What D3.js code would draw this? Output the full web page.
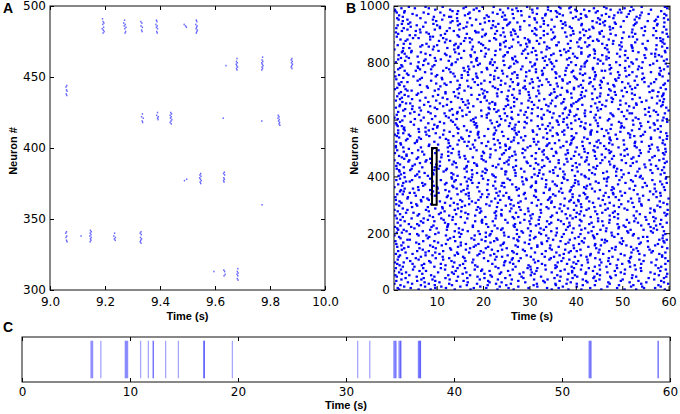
<!DOCTYPE html>
<html>
<head>
<meta charset="utf-8">
<script src="https://cdnjs.cloudflare.com/ajax/libs/d3/7.8.5/d3.min.js"></script>
<style>
body { margin: 0; background: #fff; }
svg { display: block; }
.tick text { font-family: "DejaVu Sans", sans-serif; font-size: 12px; fill: #000; }
.lab { font-family: "Liberation Sans", Arial, sans-serif; font-weight: bold; font-size: 11px; fill: #000; }
.letter { font-family: "Liberation Sans", Arial, sans-serif; font-weight: bold; font-size: 14px; fill: #000; }
</style>
</head>
<body>
<svg width="680" height="414"></svg>
<script>
// panel A: spikes in the 9-10 s window, neurons 300-500  [time (s), neuron]
var spikesA = [
  [9.191,491],[9.193,489],[9.196,488],[9.192,487],[9.195,485],[9.190,484],[9.194,483],[9.197,482],[9.193,481],
  [9.271,490],[9.268,488],[9.274,487],[9.270,486],[9.276,485],[9.272,484],[9.275,482],[9.273,481],
  [9.330,489],[9.334,488],[9.331,486],[9.336,485],[9.333,483],[9.335,482],
  [9.387,490],[9.389,489],[9.385,487],[9.390,486],[9.387,485],[9.391,484],[9.388,482],[9.390,481],
  [9.488,487],[9.493,486],[9.496,485],
  [9.532,490],[9.534,489],[9.530,487],[9.535,486],[9.533,485],[9.531,484],[9.534,482],[9.532,481],[9.536,483],
  [9.640,458],
  [9.680,463],[9.678,461],[9.681,460],[9.677,459],[9.679,458],[9.682,457],[9.678,456],[9.680,455],
  [9.773,464],[9.771,462],[9.774,461],[9.770,460],[9.772,459],[9.775,458],[9.771,457],[9.773,456],[9.770,455],
  [9.880,463],[9.877,462],[9.881,461],[9.878,460],[9.882,459],[9.879,458],[9.877,457],[9.880,456],
  [9.061,444],[9.058,443],[9.060,441],[9.062,440],[9.059,438],[9.061,437],
  [9.336,424],[9.333,422],[9.339,421],[9.335,419],[9.337,418],
  [9.391,425],[9.388,423],[9.394,422],[9.391,421],[9.393,420],
  [9.439,425],[9.442,424],[9.437,423],[9.441,422],[9.438,421],[9.443,420],[9.440,419],[9.437,418],[9.441,417],
  [9.630,421],[9.770,419],
  [9.830,423],[9.833,422],[9.829,421],[9.834,420],[9.831,419],[9.835,418],[9.833,417],[9.836,416],
  [9.489,377],[9.497,378],
  [9.548,382],[9.545,381],[9.549,380],[9.544,379],[9.547,378],[9.550,377],[9.546,376],[9.548,375],
  [9.634,383],[9.631,382],[9.635,381],[9.632,379],[9.634,378],[9.631,377],[9.633,376],
  [9.771,360],
  [9.060,341],[9.057,340],[9.061,338],[9.058,337],[9.060,335],[9.062,334],
  [9.113,338],
  [9.147,342],[9.150,341],[9.146,340],[9.149,339],[9.145,338],[9.150,337],[9.147,336],[9.149,335],[9.146,334],
  [9.235,340],[9.232,338],[9.238,337],[9.234,336],[9.237,335],
  [9.331,341],[9.328,340],[9.332,339],[9.329,337],[9.333,336],[9.330,335],[9.328,334],[9.331,333],
  [9.596,313],
  [9.632,314],[9.635,313],[9.637,311],[9.633,310],
  [9.683,315],[9.681,313],[9.684,312],[9.680,311],[9.683,310],[9.681,308],[9.684,307]
];

// panel B: whole network raster, one string per neuron: "neuron|spike times in tenths of a second"
var rasterB = [
"2|412 87 530 266 19 348 173 455 592 231 61 384 505 139","7|298 44 571 363 120 207 489 16 431 255 338 97 547 180",
"12|75 519 236 402 151 583 30 317 468 194 276 543 110 372","17|441 22 165 309 578 250 96 493 357 133 210 524 415 66",
"22|187 356 9 473 260 127 599 402 83 316 228 541 47 380","27|552 214 106 389 38 470 291 167 516 240 333 74 425 590",
"32|13 276 443 158 584 97 365 211 497 330 58 422 143 535","37|339 128 501 67 262 415 193 569 24 310 451 382 232 91",
"42|476 203 33 354 119 590 287 438 72 521 166 393 248 557","47|95 367 219 530 14 283 146 474 403 57 325 595 188 440",
"52|258 41 398 172 522 303 88 452 216 579 125 360 11 486","57|570 137 311 25 446 203 384 69 505 279 156 597 236 421",
"62|34 422 164 287 561 103 348 497 19 239 392 133 468 305","67|315 77 484 196 367 8 541 254 437 141 582 63 392 214",
"72|452 182 23 335 594 264 118 411 49 529 303 198 376 506","77|109 540 296 71 428 161 356 489 233 12 578 317 145 396",
"82|227 391 135 517 52 302 466 188 584 95 359 27 441 270","87|488 20 356 245 150 572 413 68 298 183 527 119 451 334",
"92|73 265 541 401 109 327 15 474 220 593 157 381 48 500","97|361 138 455 29 258 516 177 395 87 312 563 246 426 10",
"102|546 84 211 369 470 132 599 43 319 248 405 162 514 277","107|16 309 425 179 61 537 262 343 491 114 386 226 574 452",
"112|281 471 98 593 202 346 36 160 442 517 264 373 127 55","117|423 157 303 66 519 229 479 113 353 586 18 398 241 333",
"122|139 586 253 431 21 188 365 91 505 294 548 216 411 76","127|327 48 497 224 374 580 146 273 12 432 106 537 192 459",
"132|593 201 76 358 144 449 266 520 385 33 312 170 563 97","137|58 389 232 114 534 290 17 472 195 402 335 83 566 263",
"142|410 163 559 286 70 348 485 219 131 25 377 524 241 451","147|206 30 344 478 251 129 597 396 63 304 444 172 531 98",
"152|519 275 146 39 427 586 211 363 92 486 317 180 15 556","157|86 454 317 571 184 24 238 395 509 152 270 441 111 345",
"162|378 120 243 499 327 62 442 190 577 13 299 537 407 163","167|245 591 56 384 152 462 326 103 216 540 28 417 290 495",
"172|11 338 467 205 95 555 276 413 140 367 502 71 224 589","177|463 197 580 301 42 231 124 456 351 596 181 274 37 387",
"182|129 419 22 266 535 341 175 81 499 398 229 587 310 440","187|554 255 137 406 84 483 313 19 370 206 545 150 439 278",
"192|301 78 523 182 357 120 437 246 588 61 478 336 214 9","197|42 374 216 491 273 593 153 58 410 325 193 525 97 446",
"202|392 148 25 321 566 245 477 104 286 427 14 359 513 206","207|167 511 283 70 434 190 347 590 219 35 465 139 303 562",
"212|575 29 412 156 239 518 86 379 273 453 122 546 331 17","217|231 359 100 466 15 297 420 568 148 242 52 395 492 324",
"222|493 211 561 45 336 178 89 438 268 507 383 123 587 10","227|62 314 178 408 541 93 266 503 22 387 459 225 124 573",
"232|343 582 40 269 125 374 490 207 320 141 557 58 429 302","237|118 434 253 596 347 71 198 515 386 16 472 280 161 534",
"242|457 197 95 338 221 526 31 412 300 569 183 448 66 368","247|22 289 510 134 409 248 584 362 81 198 473 320 552 115",
"252|529 72 381 267 166 46 448 572 227 304 110 393 491 14","257|276 432 152 550 27 346 205 92 483 400 264 567 135 322",
"262|85 349 228 11 473 594 127 302 418 240 59 525 183 388","267|408 168 307 491 62 239 378 142 538 21 446 290 597 105",
"272|193 560 34 225 359 109 480 271 402 162 591 50 325 457","277|570 258 442 117 196 531 298 16 370 484 83 228 411 153",
"282|37 423 186 569 281 396 77 240 511 139 324 464 9 598","287|341 97 261 383 146 505 27 428 194 561 365 113 297 469",
"292|112 493 354 47 230 154 412 582 278 81 525 189 440 337","297|482 214 58 401 542 316 129 249 19 453 375 161 576 266",
"302|259 13 463 170 88 367 597 207 325 498 145 411 56 541","307|24 305 137 522 276 396 184 45 473 232 589 347 118 437",
"312|406 176 581 67 348 218 513 107 429 281 20 386 537 155","317|151 389 261 458 12 190 319 557 83 405 493 237 340 66",
"322|537 80 343 226 600 131 449 292 37 376 170 519 256 423","327|71 471 195 38 314 425 256 122 574 345 11 486 209 393",
"332|356 233 124 499 277 55 408 583 169 244 460 96 310 545","337|198 567 393 145 27 481 351 212 89 533 288 420 163 15",
"342|480 42 290 417 169 582 104 371 464 229 52 331 506 250","347|29 364 153 560 236 92 441 314 192 496 387 21 573 127",
"352|313 158 525 86 452 273 23 389 592 119 343 209 477 61","357|166 422 49 344 227 516 143 277 435 31 570 368 102 482",
"362|418 101 271 590 60 335 479 188 246 391 136 544 303 9","367|94 528 222 134 395 26 305 466 167 553 240 424 71 359",
"372|570 210 355 75 491 287 152 431 17 336 586 118 263 406","377|245 398 28 177 549 121 370 242 507 449 69 314 191 596",
"382|34 467 314 226 91 405 582 165 285 42 523 350 138 443","387|382 141 519 47 258 336 211 494 399 109 174 565 294 13",
"392|133 293 461 375 169 21 544 253 86 428 327 594 200 467","397|499 63 176 284 421 132 373 595 227 31 470 305 538 161",
"402|270 540 18 398 318 197 81 487 361 145 529 223 419 54","407|58 311 441 136 583 248 412 23 330 177 503 93 376 220",
"412|435 187 92 514 30 352 270 132 459 565 205 321 74 591","417|199 373 248 20 467 115 533 289 404 62 344 165 487 250",
"422|561 43 322 208 120 429 586 351 176 498 19 268 392 95","427|104 489 160 366 240 577 46 310 443 205 122 537 282 14",
"432|327 228 550 96 402 29 164 482 265 356 590 143 438 69","437|13 446 271 165 332 483 221 107 573 393 48 302 518 187",
"442|408 134 53 428 562 255 375 186 21 319 474 99 233 548","447|246 592 314 88 181 400 16 523 296 141 453 363 64 508",
"452|531 76 206 472 294 137 344 596 39 420 251 168 382 107","457|78 363 499 255 41 559 201 127 328 457 271 580 9 423",
"462|380 162 30 313 444 86 520 236 390 197 57 478 340 589","467|150 524 289 412 178 60 337 463 110 257 565 25 424 215",
"472|505 35 396 197 570 263 125 352 482 19 305 441 160 536","477|270 456 111 35 331 497 216 591 73 378 148 241 512 407",
"482|47 314 588 245 132 426 358 10 540 202 473 285 97 383","487|419 200 69 357 476 148 557 268 399 29 328 125 441 594",
"492|186 538 291 438 15 382 227 104 505 331 60 471 249 578","497|560 91 348 173 256 465 40 321 593 216 135 418 510 286",
"502|28 402 237 531 124 296 447 181 66 367 576 258 492 12","507|337 166 461 83 373 207 558 12 415 302 129 527 249 440",
"512|103 564 248 339 23 479 145 388 225 504 84 315 592 178","517|472 22 390 126 276 587 343 197 453 53 430 236 527 355",
"522|211 310 528 57 445 169 95 380 261 542 13 414 160 319","527|58 449 183 287 503 391 34 232 588 125 364 266 475 148",
"532|394 120 338 596 66 223 489 156 309 425 37 562 254 473","537|153 267 19 418 562 330 107 473 191 282 581 62 396 517",
"542|540 84 203 350 136 461 291 14 526 244 391 170 597 43","547|273 486 114 40 375 223 545 316 78 432 189 517 361 10",
"552|17 359 432 189 513 98 271 401 595 28 338 225 470 146","557|446 173 62 549 241 308 432 128 371 190 496 76 583 277",
"562|228 570 345 116 17 434 165 521 268 83 375 466 31 307","567|61 322 475 263 391 147 537 29 211 456 335 92 577 420",
"572|504 144 289 30 560 225 383 76 497 350 101 268 418 186","577|318 25 410 187 102 499 256 583 340 159 448 16 541 233",
"582|95 477 236 363 570 51 328 182 431 270 524 140 381 14","587|421 258 12 539 294 390 116 447 219 568 82 344 185 498",
"592|180 373 556 135 44 277 493 361 107 412 290 21 597 230","597|576 66 304 443 216 131 587 26 359 248 469 174 523 399",
"602|263 509 179 16 407 327 90 535 239 143 472 374 53 596","607|9 349 440 295 529 184 72 261 381 589 126 452 208 326",
"612|481 197 97 365 252 560 420 31 318 156 504 236 120 397","617|135 550 276 401 62 331 208 479 14 577 289 385 164 443",
"622|372 43 516 212 144 475 592 305 87 247 419 117 352 521","627|52 292 388 557 171 17 432 344 229 499 82 573 262 145",
"632|448 128 233 66 387 281 568 155 420 28 511 339 196 600","637|214 404 32 492 306 133 245 549 376 101 454 224 47 326",
"642|558 167 318 212 96 525 378 12 297 446 150 595 260 63","647|86 433 584 341 249 48 179 391 515 267 114 464 20 356",
"652|336 226 122 457 587 390 21 310 162 531 73 414 254 496","657|169 508 43 283 369 575 214 442 107 346 226 34 530 395",
"662|542 82 401 157 26 305 478 220 588 373 131 267 451 195","667|298 12 466 349 208 552 99 254 405 167 496 321 64 581",
"672|21 375 251 123 480 188 590 332 47 436 273 522 154 408","677|413 267 564 76 357 446 146 25 301 538 203 391 113 477",
"682|140 586 231 419 39 315 204 502 360 92 576 253 15 452","687|486 103 344 192 527 263 57 411 299 175 470 588 31 367",
"692|60 321 453 279 119 589 390 148 230 521 19 435 347 200","697|354 209 23 510 413 137 298 578 67 382 240 484 119 559",
"702|203 567 381 96 255 37 475 319 160 422 565 279 46 499","707|521 145 292 441 10 353 197 594 266 104 396 472 232 33",
"712|15 396 174 528 308 454 81 226 370 506 149 287 583 415","717|437 79 258 361 168 517 406 30 320 221 557 108 483 290",
"722|275 452 121 20 589 238 345 481 189 64 411 327 533 150","727|99 248 513 382 276 117 562 429 18 301 469 196 359 592",
"732|569 182 37 307 432 500 215 130 387 264 24 548 341 456","737|322 487 203 145 59 416 290 599 166 372 454 88 239 527",
"742|64 337 440 573 224 13 305 485 112 402 260 543 178 371","747|430 111 274 28 492 357 154 547 233 399 68 318 460 188",
"752|186 531 396 252 139 587 50 365 442 293 11 509 224 98","757|515 39 168 443 328 216 494 274 101 581 377 154 415 19",
"762|243 420 580 89 36 329 185 409 544 263 136 475 358 601","767|9 293 356 491 197 130 562 441 268 75 391 314 522 167",
"772|394 160 55 327 583 226 463 114 300 507 378 31 241 456","777|127 473 282 209 410 64 349 534 170 437 17 590 314 88",
"782|542 230 121 437 21 380 256 158 506 332 476 208 581 60","787|306 59 515 168 259 598 412 91 353 180 536 285 26 419",
"792|71 384 246 560 132 311 24 473 221 400 95 338 495 189","797|459 193 349 82 419 267 523 133 594 44 312 447 215 567",
"802|216 520 12 302 487 141 390 225 61 544 274 175 421 346","807|590 98 424 186 358 32 244 575 333 453 126 507 271 73",
"812|145 343 264 531 76 466 185 316 17 381 596 219 448 109","817|403 23 187 386 263 550 96 440 293 153 512 40 329 471",
"822|35 466 335 129 571 204 427 59 269 398 495 174 585 244","827|347 173 579 247 430 18 315 506 121 226 368 86 457 548",
"832|563 284 76 394 148 489 352 206 571 31 441 297 118 412","837|182 412 253 45 326 535 140 471 379 253 593 66 305 25",
"842|27 507 366 227 104 441 592 159 287 523 196 384 46 313","847|468 138 291 573 212 9 375 237 439 92 337 552 176 496",
"852|308 550 41 146 463 257 123 597 343 205 412 28 522 388","857|94 248 425 338 521 83 295 406 178 65 499 262 586 147",
"862|520 69 200 494 16 358 574 281 138 429 237 359 101 467","867|237 383 141 29 293 480 196 43 544 321 457 152 591 78",
"872|403 191 528 276 118 420 332 245 7 363 587 172 498 300","877|129 583 300 437 249 105 555 389 214 481 33 316 159 449",
"882|588 37 471 176 348 228 86 446 297 532 121 408 265 22","887|49 324 114 410 574 290 171 500 61 353 224 582 427 162",
"892|355 460 247 86 198 523 380 14 431 148 599 275 515 92","897|261 109 567 331 42 418 238 145 486 389 54 315 204 546",
"902|528 226 395 17 311 165 596 270 83 452 339 118 475 206","907|78 451 185 521 260 377 65 587 409 190 12 351 244 503",
"912|422 137 306 268 549 25 456 122 394 230 573 55 331 183","917|199 595 64 429 347 149 280 474 37 315 522 96 416 265",
"922|542 312 218 107 480 391 13 568 243 158 438 371 29 128","927|107 387 549 227 71 436 324 164 497 280 590 44 354 473",
"932|378 16 252 462 176 575 101 340 221 525 146 412 300 57","937|25 486 150 372 255 93 528 413 194 39 331 576 233 452",
"942|459 274 76 531 316 204 445 130 377 591 43 258 484 166","947|213 555 436 145 27 289 368 503 99 222 463 134 570 331",
"952|573 112 348 250 452 37 185 599 312 92 527 406 18 246","957|144 328 481 15 394 266 537 172 65 448 311 203 590 411",
"962|400 212 577 94 300 472 131 27 359 510 241 127 423 531","967|57 456 161 334 208 595 421 283 539 19 372 247 116 483",
"972|335 144 514 411 82 231 365 465 168 316 591 48 264 557","977|491 30 243 171 542 389 108 307 443 221 72 498 360 14",
"982|11 357 429 275 134 584 192 517 31 402 282 146 447 346","987|263 524 97 399 475 10 340 237 562 129 418 306 495 180",
"992|439 186 317 53 254 505 386 83 597 272 158 466 24 367","997|113 542 223 389 163 461 76 295 364 520 199 592 340 40"
];

// panel C: population burst onsets (s); near values overlap into darker bands
var burstTimes = [6.38, 6.46, 6.54, 7.3, 9.56, 9.63, 9.7, 9.78, 10.98, 11.7, 12.15, 12.16,
  13.3, 14.48, 16.85, 16.86, 16.87, 19.48, 31.08, 32.2, 34.42, 34.5, 34.58, 34.64,
  34.9, 34.98, 35.06, 35.08, 36.7, 36.76, 36.82, 36.88, 36.9, 52.5, 52.57, 52.64, 52.7, 58.9, 58.91];

var ticksAx = [9.0, 9.2, 9.4, 9.6, 9.8, 10.0];
var ticksAy = [300, 350, 400, 450, 500];
var ticksBx = [10, 20, 30, 40, 50, 60];
var ticksBy = [0, 200, 400, 600, 800, 1000];
var ticksCx = [0, 10, 20, 30, 40, 50, 60];

var svg = d3.select("svg");

var spikesB = [];
rasterB.forEach(function(row) {
  var parts = row.split("|");
  var n = +parts[0];
  parts[1].split(" ").forEach(function(t) {
    spikesB.push([+t / 10, n]);
  });
});

function drawAxes(g, x, y, w, h, xt, yt, xf, pad) {
  g.append("g").attr("transform", "translate(0," + h + ")")
    .call(d3.axisBottom(x).tickValues(xt).tickSizeInner(-4).tickSizeOuter(0).tickPadding(pad).tickFormat(xf));
  g.append("g")
    .call(d3.axisTop(x).tickValues(xt).tickSizeInner(-4).tickSizeOuter(0).tickFormat(""));
  if (yt) {
    g.append("g")
      .call(d3.axisLeft(y).tickValues(yt).tickSizeInner(-4).tickSizeOuter(0).tickPadding(4).tickFormat(d3.format("d")));
    g.append("g").attr("transform", "translate(" + w + ",0)")
      .call(d3.axisRight(y).tickValues(yt).tickSizeInner(-4).tickSizeOuter(0).tickFormat(""));
  }
  g.selectAll(".domain").remove();
  g.append("rect").attr("width", w).attr("height", h)
    .attr("fill", "none").attr("stroke", "#111").attr("stroke-width", 1);
}

// ---- A ----
var wA = 275, hA = 284;
var gA = svg.append("g").attr("transform", "translate(50,6)");
var xA = d3.scaleLinear().domain([9, 10]).range([0, wA]);
var yA = d3.scaleLinear().domain([300, 500]).range([hA, 0]);
gA.selectAll("rect.sp").data(spikesA).enter().append("rect")
  .attr("class", "sp")
  .attr("x", function(d) { return xA(d[0]) - 0.7; })
  .attr("y", function(d) { return yA(d[1]) - 0.8; })
  .attr("width", 1.4).attr("height", 1.6)
  .attr("fill", "#0000ff").attr("fill-opacity", 0.6);
drawAxes(gA, xA, yA, wA, hA, ticksAx, ticksAy, d3.format(".1f"), 7);

// ---- B ----
var wB = 276, hB = 284;
var gB = svg.append("g").attr("transform", "translate(394,6)");
var xB = d3.scaleLinear().domain([0.8, 60.3]).range([0, wB]);
var yB = d3.scaleLinear().domain([0, 1000]).range([hB, 0]);
svg.append("clipPath").attr("id", "clipB").append("rect").attr("width", wB).attr("height", hB);
gB.append("g").attr("clip-path", "url(#clipB)")
  .selectAll("rect").data(spikesB).enter().append("rect")
  .attr("x", function(d) { return xB(d[0]) - 1.2; })
  .attr("y", function(d) { return yB(d[1]) - 1.1; })
  .attr("width", 2.4).attr("height", 2.2)
  .attr("fill", "#0000ff");
gB.append("rect")
  .attr("x", xB(9)).attr("y", yB(500))
  .attr("width", xB(10) - xB(9)).attr("height", yB(300) - yB(500))
  .attr("fill", "none").attr("stroke", "#000").attr("stroke-width", 2);
drawAxes(gB, xB, yB, wB, hB, ticksBx, ticksBy, d3.format("d"), 7);

// ---- C ----
var wC = 648, hC = 45;
var gC = svg.append("g").attr("transform", "translate(22,337)");
var xC = d3.scaleLinear().domain([0, 60]).range([0, wC]);
var yC = d3.scaleLinear().domain([-0.1, 1.1]).range([hC, 0]);
gC.selectAll("line.ev").data(burstTimes).enter().append("line")
  .attr("class", "ev")
  .attr("x1", function(d) { return xC(d); }).attr("x2", function(d) { return xC(d); })
  .attr("y1", yC(0)).attr("y2", yC(1))
  .attr("stroke", "#0000ff").attr("stroke-opacity", 0.35).attr("stroke-width", 1.3);
drawAxes(gC, xC, yC, wC, hC, ticksCx, null, d3.format("d"), 5.5);

// ---- labels ----
svg.append("text").attr("class", "lab").attr("x", 187.5).attr("y", 320).attr("text-anchor", "middle").text("Time (s)");
svg.append("text").attr("class", "lab").attr("x", 532).attr("y", 320).attr("text-anchor", "middle").text("Time (s)");
svg.append("text").attr("class", "lab").attr("x", 346).attr("y", 409).attr("text-anchor", "middle").text("Time (s)");
svg.append("text").attr("class", "lab").attr("transform", "translate(17,151) rotate(-90)").attr("text-anchor", "middle").text("Neuron #");
svg.append("text").attr("class", "lab").attr("transform", "translate(358,151) rotate(-90)").attr("text-anchor", "middle").text("Neuron #");
svg.append("text").attr("class", "letter").attr("x", 3).attr("y", 13).text("A");
svg.append("text").attr("class", "letter").attr("x", 346).attr("y", 13).text("B");
svg.append("text").attr("class", "letter").attr("x", 3).attr("y", 332).text("C");
</script>
</body>
</html>
